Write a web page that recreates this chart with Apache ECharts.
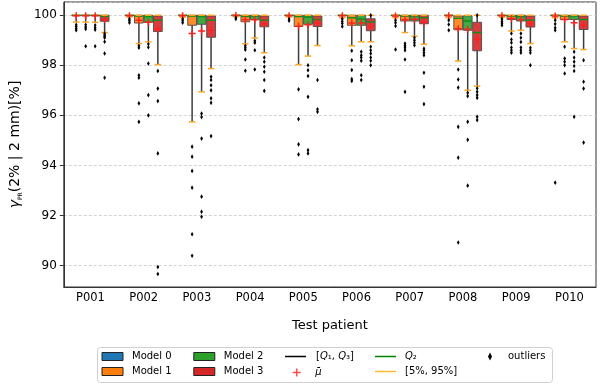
<!DOCTYPE html>
<html><head><meta charset="utf-8">
<script src="https://cdn.jsdelivr.net/npm/echarts@6/dist/echarts.min.js"></script>
<style>html,body{margin:0;padding:0;background:#fff}#c{width:600px;height:385px}</style>
</head><body><div id="c"></div>
<script>
const patients = ['P001','P002','P003','P004','P005','P006','P007','P008','P009','P010'];
const modelNames = ['Model 0','Model 1','Model 2','Model 3'];
const modelColors = ['#1f77b4','#ff7f0e','#2ca02c','#d62728'];
const yTicks = [90, 92, 94, 96, 98, 100];

// per model (rows) and patient (columns)
const p5 = [
  [99.73, 99.93, 99.92, 99.95, 99.93, 99.9, 99.9, 99.9, 99.92, 99.9],
  [99.73, 98.87, 95.74, 98.86, 98.03, 98.78, 99.31, 98.17, 99.37, 98.94],
  [99.72, 98.94, 96.94, 99.09, 98.37, 98.94, 99.16, 97.0, 99.4, 98.67],
  [99.31, 98.03, 97.87, 98.5, 98.79, 98.94, 98.84, 97.17, 98.87, 98.63]
];
const q1 = [
  [100, 100, 100, 100, 100, 100, 100, 100, 100, 100],
  [100, 99.69, 99.6, 99.74, 99.55, 99.6, 99.77, 99.42, 99.83, 99.83],
  [100, 99.72, 99.64, 99.83, 99.64, 99.6, 99.77, 99.4, 99.77, 99.83],
  [99.76, 99.35, 99.12, 99.54, 99.55, 99.38, 99.66, 98.58, 99.53, 99.43]
];
const q2 = [
  [100, 100, 100, 100, 100, 100, 100, 100, 100, 100],
  [100, 99.97, 99.97, 99.95, 99.95, 99.9, 99.97, 99.88, 99.97, 99.97],
  [100, 99.95, 99.95, 99.97, 99.93, 99.85, 99.97, 99.77, 99.95, 99.97],
  [99.95, 99.8, 99.8, 99.8, 99.83, 99.73, 99.9, 99.31, 99.8, 99.83]
];
const q3 = [
  [100, 100, 100, 100, 100, 100, 100, 100, 100, 100],
  [100, 100, 100, 100, 100, 100, 100, 99.97, 100, 100],
  [100, 100, 100, 100, 100, 100, 100, 99.98, 100, 100],
  [100, 99.97, 99.97, 99.97, 99.97, 99.86, 100, 99.72, 99.97, 99.97]
];
const p95 = [
  [100, 100, 100, 100, 100, 100, 100, 100, 100, 100],
  [100, 100, 100, 100, 100, 100, 100, 100, 100, 100],
  [100, 100, 100, 100, 100, 100, 100, 100, 100, 100],
  [100, 100, 100, 100, 100, 100, 100, 100, 100, 100]
];
const means = [
  [99.98, 99.98, 99.98, 99.99, 99.98, 99.98, 99.97, 99.98, 99.98, 99.97],
  [99.98, 99.8, 99.27, 99.82, 99.56, 99.69, 99.82, 99.46, 99.87, 99.83],
  [99.98, 99.72, 99.37, 99.82, 99.62, 99.69, 99.84, 99.44, 99.83, 99.7],
  [99.83, 99.45, 99.4, 99.66, 99.7, 99.57, 99.72, 99.04, 99.67, 99.6]
];
const outliers = [
  [[99.62,99.55,99.47,99.4],[99.85,99.78,99.7],[99.85,99.78,99.7],[99.9,99.85],[99.85,99.78],[99.85,99.75,99.67,99.55],[99.8,99.7,99.57,98.63],[99.8,99.63,99.4],[99.85,99.75,99.68,99.6],[99.8,99.65,99.5,99.4,93.31]],
  [[99.62,99.53,99.45,98.76],[98.78,98.7,97.6,97.5,96.48,95.74],[94.75,94.35,93.78,93.11,91.25,90.39],[98.78,98.7,98.62,98.23,97.78],[97.04,95.85,94.84,94.44],[98.58,98.2,97.81,97.45,97.37],[98.87,98.78,98.7,98.6,98.23,96.94],[97.83,97.43,97.11,95.54,94.31,90.92],[99.27,99.03,98.9,98.71,98.6,98.5],[98.74,98.27,98.14,98.0,97.67]],
  [[99.6,99.5,99.42,98.76],[98.85,98.72,98.07,96.81,96.0],[96.07,95.93,95.07,92.75,92.15,91.95],[98.98,98.9,98.6,97.83],[98.0,97.8,97.57,96.74,94.61,94.48],[98.54,98.4,98.31,98.18,97.6,97.41],[99.1,99.0,98.9,98.8],[96.9,96.77,95.74,95.02,93.19],[99.27,99.1,98.93,98.71,98.6,98.5],[98.54,98.31,98.14,97.97,97.77,95.94]],
  [[99.27,99.2,99.15,99.1,98.94,98.47,97.5],[97.77,97.07,96.57,94.48,89.94,89.66],[97.54,97.41,97.2,97.0,96.68,96.5,95.17],[98.31,98.14,97.94,97.74,97.41,96.98],[97.41,96.24,96.14],[100,98.74,98.6,98.47,98.31,98.18,98.0],[98.67,98.6,98.5,98.4,97.7,97.14,96.45],[100,97.08,96.94,96.81,96.7,95.94,95.81],[98.7,98.6,98.5,98.0],[98.2,97.34,97.07,94.91]]
];

const OFF = 0.178, BW = 0.165, CW = 0.12;
const WHISK = '#3c3c3c', MED = '#138d13', CAP = '#ffa51e', MEAN = '#ff2020';

function boxRender(m) {
  return function (params, api) {
    const ci = api.value(0);
    const band = api.size([1, 0])[0];
    const cx = api.coord([ci, 100])[0] + (m - 1.5) * band * OFF;
    const bw = band * BW, cw = band * CW;
    const y = v => api.coord([ci, v])[1];
    const yp5 = y(api.value(1)), yq1 = y(api.value(2)), ymed = y(api.value(3)),
          yq3 = y(api.value(4)), yp95 = y(api.value(5)), ymean = y(api.value(6));
    const ls = (x1, y1, x2, y2, c, w) => ({type: 'line', shape: {x1, y1, x2, y2}, style: {stroke: c, lineWidth: w}});
    const ms = 3.5;
    return {type: 'group', children: [
      ls(cx, yq1, cx, yp5, WHISK, 1.5),
      ls(cx, yq3, cx, yp95, WHISK, 1.5),
      {type: 'rect', shape: {x: cx - bw / 2, y: yq3, width: bw, height: Math.max(yq1 - yq3, 0.5)},
       style: {fill: modelColors[m], stroke: '#4a4a4a', lineWidth: 1, opacity: 0.9}},
      ls(cx - bw / 2, ymed, cx + bw / 2, ymed, MED, 1.5),
      ls(cx - cw / 2, yp5, cx + cw / 2, yp5, CAP, 1.5),
      ls(cx - cw / 2, yp95, cx + cw / 2, yp95, CAP, 1.5),
      ls(cx - ms, ymean, cx + ms, ymean, MEAN, 1.5),
      ls(cx, ymean - ms, cx, ymean + ms, MEAN, 1.5)
    ]};
  };
}

const series = [];
modelNames.forEach((name, m) => {
  series.push({
    name, type: 'custom', renderItem: boxRender(m),
    itemStyle: {color: modelColors[m]},
    encode: {x: 0, y: [1, 2, 3, 4, 5, 6]},
    data: patients.map((p, i) => [i, p5[m][i], q1[m][i], q2[m][i], q3[m][i], p95[m][i], means[m][i]]),
    z: 2
  });
});
const outData = [];
outliers.forEach((row, m) => row.forEach((vals, i) => vals.forEach(v => outData.push([i, m, v]))));
series.push({
  name: 'outliers', type: 'custom', z: 3,
  itemStyle: {color: '#000'},
  encode: {x: 0, y: 2},
  renderItem: function (params, api) {
    const ci = api.value(0), m = api.value(1);
    const band = api.size([1, 0])[0];
    const p = api.coord([ci, api.value(2)]);
    const x = p[0] + (m - 1.5) * band * OFF, yy = p[1];
    return {type: 'polygon', shape: {points: [[x, yy - 2.3], [x + 1.4, yy], [x, yy + 2.3], [x - 1.4, yy]]}, style: {fill: '#000'}};
  },
  data: outData
});
series.push({name: 'q13', type: 'line', data: [], symbol: 'none', lineStyle: {color: '#000', width: 1.5}, itemStyle: {color: '#000'}});
series.push({name: 'q2', type: 'line', data: [], symbol: 'none', lineStyle: {color: 'green', width: 1.5}, itemStyle: {color: 'green'}});
series.push({name: 'pct', type: 'line', data: [], symbol: 'none', lineStyle: {color: '#ffb833', width: 1.5}, itemStyle: {color: '#ffb833'}});
series.push({name: 'mean', type: 'scatter', data: [], itemStyle: {color: '#ff2020'}});

const CROSS = 'path://M3.25,0H4.75V3.25H8V4.75H4.75V8H3.25V4.75H0V3.25H3.25Z';
const DIAM = 'path://M2,0L4,4L2,8L0,4Z';
const legTxt = {fontSize: 10, color: '#000', fontFamily: 'DejaVu Sans'};
const rich = {i: {fontStyle: 'italic', fontSize: 10, fontFamily: 'DejaVu Sans'}};
const row1 = 351.5;
function leg(left, top, data, extra) {
  return Object.assign({left, top, orient: 'vertical', padding: 0, itemGap: 5, itemWidth: 21, itemHeight: 8,
    selectedMode: false, data, textStyle: Object.assign({}, legTxt, {padding: [0, 0, 0, 4], rich})}, extra || {});
}
const legendItemStyle = m => ({color: modelColors[m], borderColor: '#222', borderWidth: 1});
const lineItem = (name, c) => ({name, icon: 'rect', itemStyle: {color: c, borderWidth: 0}});
const labelMap = {q13: '[{i|Q}₁, {i|Q}₃]', q2: '{i|Q}₂', pct: '[5%, 95%]', mean: '{i|μ̄}', outliers: 'outliers'};
const fmt = n => labelMap[n] || n;

const option = {
  animation: false,
  textStyle: {fontFamily: 'DejaVu Sans'},
  grid: {left: 52.5, right: 4, top: 2, bottom: 98, show: true, borderColor: '#333', borderWidth: 1},
  xAxis: {
    type: 'category', data: patients,
    axisLine: {lineStyle: {color: '#333'}},
    axisTick: {alignWithLabel: true, length: 4, lineStyle: {color: '#333'}},
    axisLabel: {color: '#000', fontSize: 11.5, margin: 5},
    name: 'Test patient', nameLocation: 'middle', nameGap: 32,
    nameTextStyle: {color: '#000', fontSize: 13}
  },
  yAxis: {
    type: 'value', min: 89.14, max: 100.53, minInterval: 2, maxInterval: 2, splitNumber: 5,
    axisLine: {show: true, lineStyle: {color: '#333'}},
    axisTick: {show: true, length: 4, lineStyle: {color: '#333'}},
    axisLabel: {color: '#000', fontSize: 12, margin: 7, showMinLabel: false, showMaxLabel: false,
      formatter: v => (yTicks.indexOf(Math.round(v * 100) / 100) >= 0 ? String(v) : '')},
    splitLine: {show: true, lineStyle: {color: '#c8c8c8', type: [3, 2], width: 0.8}},
    name: '{g|γ}{s|PR}{t|(2% | 2 mm)[%]}', nameLocation: 'middle', nameGap: 17,
    nameTextStyle: {color: '#000', fontSize: 14, rich: {
      g: {fontSize: 14, fontStyle: 'italic', lineHeight: 16, fontFamily: 'DejaVu Sans'},
      s: {fontSize: 6, lineHeight: 6, verticalAlign: 'bottom', fontFamily: 'DejaVu Sans'},
      t: {fontSize: 14, lineHeight: 16, fontFamily: 'DejaVu Sans'}}}
  },
  graphic: [{type: 'rect', z: 0, shape: {x: 97.5, y: 347.5, width: 455, height: 35, r: 3},
    style: {fill: '#fff', stroke: '#d0d0d0', lineWidth: 1}}],
  legend: [
    leg(101.5, row1, [{name: 'Model 0', icon: 'rect', itemStyle: legendItemStyle(0)}, {name: 'Model 1', icon: 'rect', itemStyle: legendItemStyle(1)}]),
    leg(193.3, row1, [{name: 'Model 2', icon: 'rect', itemStyle: legendItemStyle(2)}, {name: 'Model 3', icon: 'rect', itemStyle: legendItemStyle(3)}]),
    leg(285, row1, [lineItem('q13', '#000')], {itemHeight: 1.5, formatter: fmt, textStyle: Object.assign({}, legTxt, {padding: [0, 0, 0, 5], rich})}),
    leg(292.7, row1 + 16, [{name: 'mean', icon: CROSS}], {itemWidth: 8, itemHeight: 8, formatter: fmt, textStyle: Object.assign({}, legTxt, {padding: [0, 0, 0, 9.5], rich})}),
    leg(375, row1, [lineItem('q2', 'green'), lineItem('pct', '#ffb833')], {itemHeight: 1.5, itemGap: 5, formatter: fmt}),
    leg(488, row1, [{name: 'outliers', icon: DIAM, itemStyle: {color: '#000'}}], {itemWidth: 4, itemHeight: 8, formatter: fmt, textStyle: Object.assign({}, legTxt, {padding: [0, 0, 0, 11], rich})})
  ],
  series
};
const chart = echarts.init(document.getElementById('c'), null, {renderer: 'canvas'});
chart.setOption(option);
</script>
</body></html>
